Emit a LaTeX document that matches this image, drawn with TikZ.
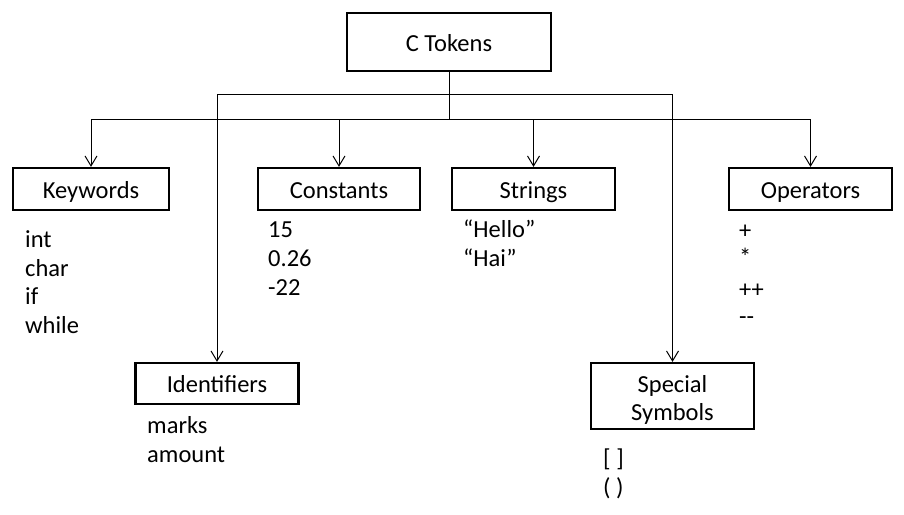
\documentclass[tikz,border=0pt]{standalone}
\usepackage{fontspec}
\setmainfont{Carlito}
\usetikzlibrary{arrows.meta}
\begin{document}
\begin{tikzpicture}[x=1pt,y=-1pt,
  box/.style={draw, line width=2.2pt, minimum height=42pt, inner sep=0pt, text height=18pt, text depth=0pt, font=\fontsize{24.5}{28}\selectfont},
  conn/.style={line width=1pt},
  arr/.style={conn, -{Straight Barb[length=10pt,width=12pt,line width=1pt]}},
  lbl/.style={anchor=base west, inner sep=0pt, font=\fontsize{24.5}{28}\selectfont}]
\useasboundingbox[fill=white] (0,0) rectangle (904,514);

% boxes
\node[box, minimum width=204pt, minimum height=58pt] (ctok) at (449,42) {C Tokens};
\node[box, minimum width=156pt] (kw) at (91,189) {Keywords};
\node[box, minimum width=162pt] (const) at (339,189) {Constants};
\node[box, minimum width=163pt] (str) at (533.5,189) {Strings};
\node[box, minimum width=163pt] (ops) at (810.5,189) {Operators};
\node[box, minimum width=163pt, minimum height=41pt] (ident) at (217,383.5) {Identifiers};
\node[box, minimum width=163pt, minimum height=66pt, text height=48pt, text depth=0pt, align=center] (spec) at (672.5,396) {Special\\Symbols};

% connectors
\coordinate (j1) at (449,94);
\coordinate (j2) at (449,119);
\draw[conn] (ctok.south) -- (j2);
\draw[arr] (j1) -| (ident.north);
\draw[arr] (j1) -| (spec.north);
\draw[arr] (j2) -| (kw.north);
\draw[arr] (j2) -| (const.north);
\draw[arr] (j2) -| (str.north);
\draw[arr] (j2) -| (ops.north);

% texts
\node[lbl] (k1) at (25,247) {int};
\node[lbl] (k2) at (25,276) {char};
\node[lbl] (k3) at (25,304) {if};
\node[lbl] (k4) at (25,333) {while};

\node[lbl] (c1) at (268,237) {15};
\node[lbl] (c2) at (268,266) {0.26};
\node[lbl] (c3) at (268,295) {-22};

\node[lbl] (s1) at (463,237) {“Hello”};
\node[lbl] (s2) at (463,266) {“Hai”};

\node[lbl] (o1) at (739,238) {+};
\node[lbl] (o2) at (739,265) {*};
\node[lbl] (o3) at (739,297) {++};
\node[lbl] (o4) at (739,324) {-\kern0pt-};

\node[lbl] (i1) at (147,433) {marks};
\node[lbl] (i2) at (147,462) {amount};

\node[lbl] (p1) at (603,466) {[ ]};
\node[lbl] (p2) at (603,495) {( )};
\end{tikzpicture}
\end{document}
